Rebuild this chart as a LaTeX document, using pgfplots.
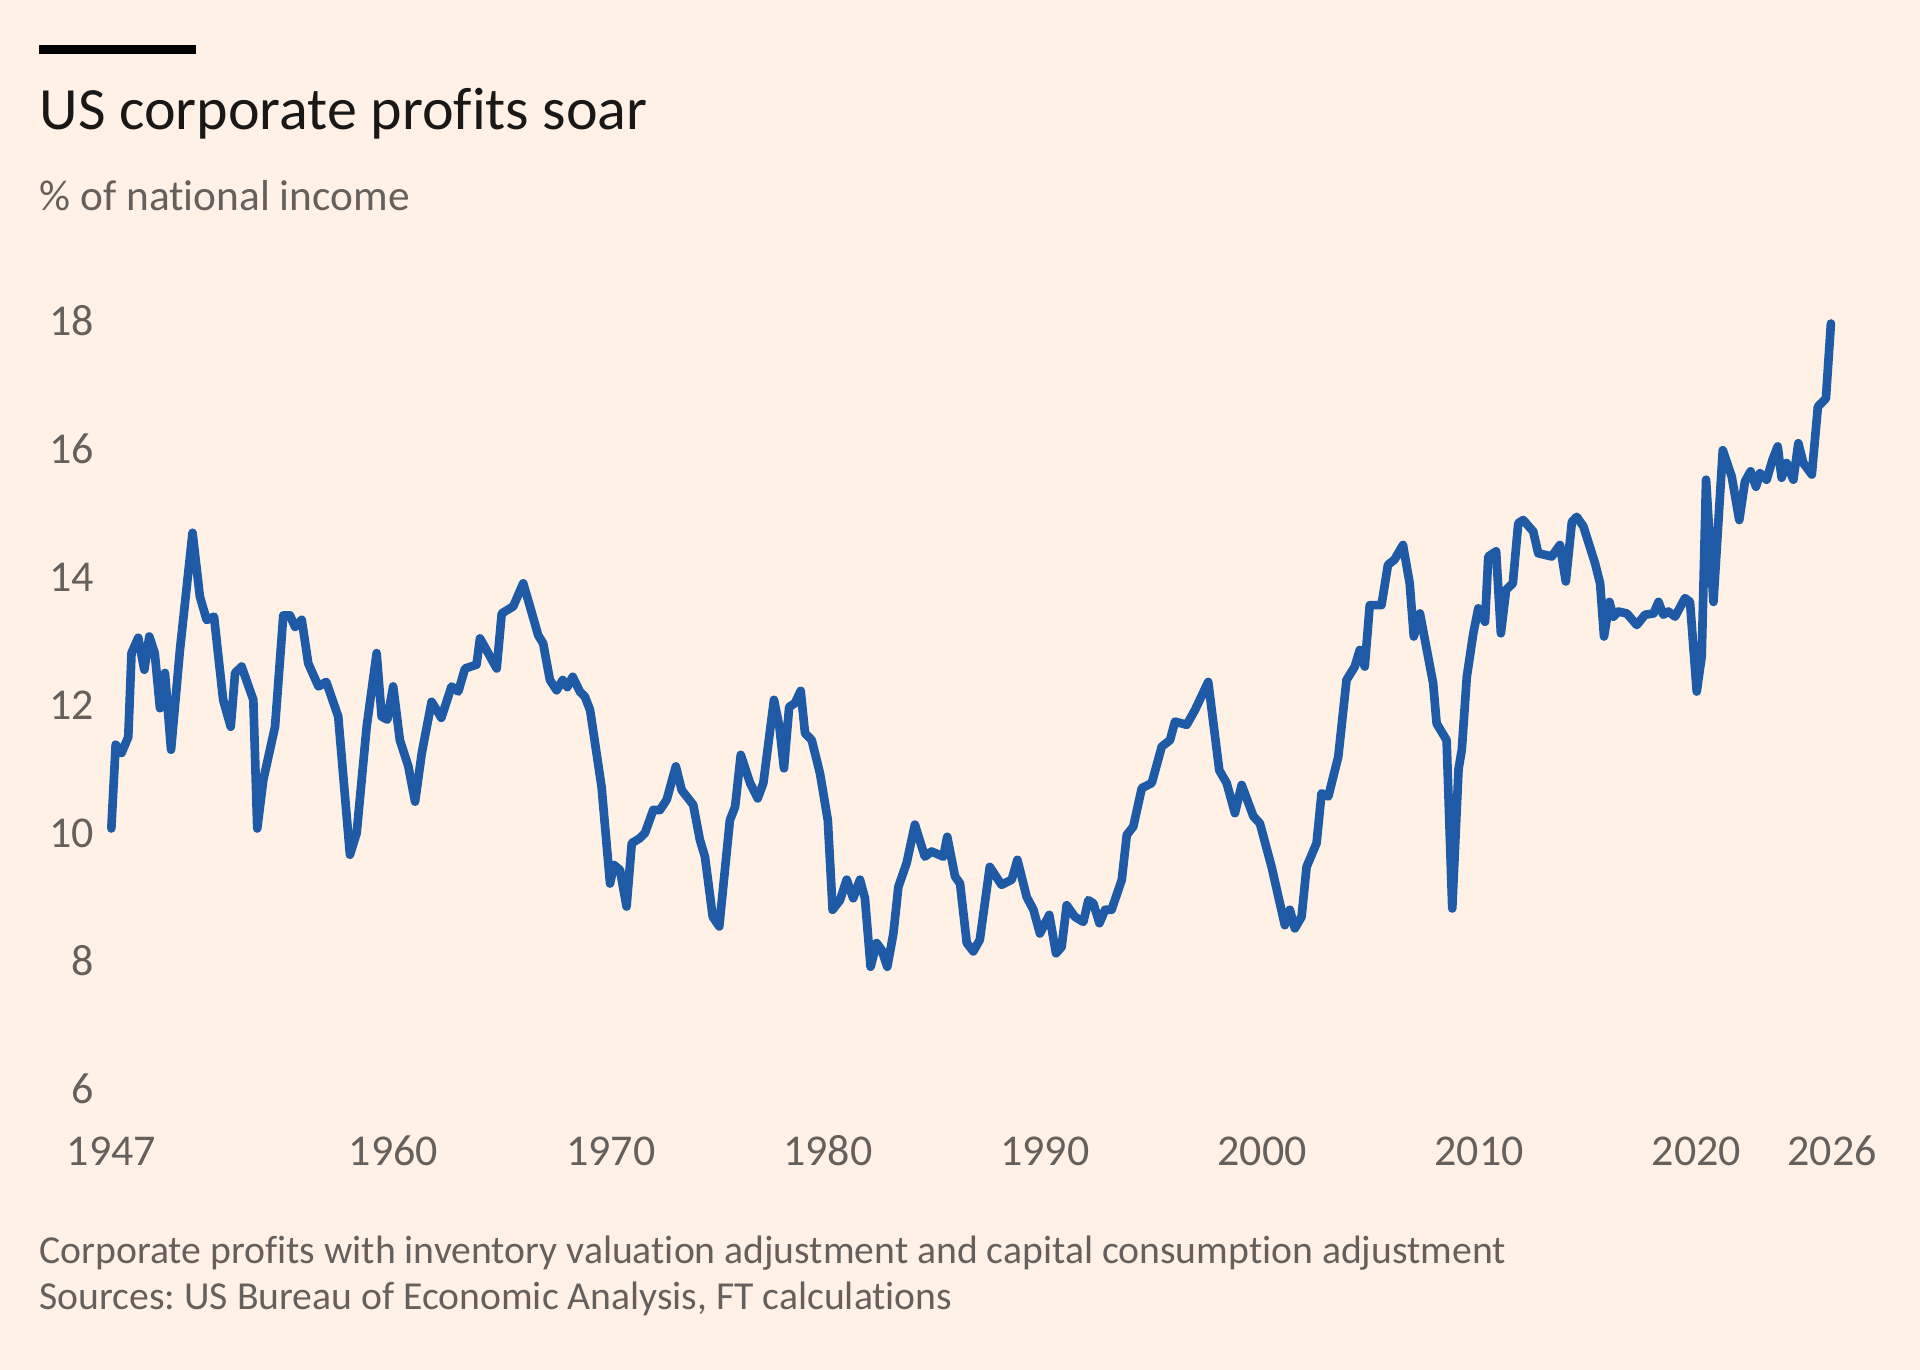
\documentclass[border=0pt]{standalone}
\usepackage{fontspec}
\setmainfont[Ligatures=NoCommon]{Carlito}
\usepackage{pgfplots}
\pgfplotsset{compat=1.18}
\frenchspacing
\definecolor{ftbg}{HTML}{FFF1E5}
\definecolor{fttitle}{HTML}{1A1817}
\definecolor{ftgray}{HTML}{66605C}
\definecolor{ftblue}{HTML}{1E5AA6}
\pgfplotstableread{
year value
1947.0 10.07
1947.2 11.38
1947.47 11.25
1947.78 11.5
1947.93 12.81
1948.24 13.05
1948.52 12.55
1948.75 13.07
1949.0 12.81
1949.24 11.95
1949.47 12.5
1949.75 11.3
1950.16 12.86
1950.74 14.69
1951.08 13.69
1951.39 13.33
1951.73 13.38
1952.15 12.08
1952.5 11.66
1952.7 12.5
1953.0 12.6
1953.54 12.08
1953.72 10.07
1954.0 10.83
1954.54 11.66
1954.92 13.4
1955.23 13.4
1955.46 13.22
1955.77 13.33
1956.07 12.65
1956.54 12.29
1956.9 12.36
1957.45 11.82
1957.99 9.66
1958.3 10.0
1958.76 11.66
1959.22 12.81
1959.45 11.82
1959.71 11.77
1959.98 12.29
1960.29 11.45
1960.68 11.04
1960.99 10.49
1961.3 11.25
1961.75 12.05
1962.2 11.8
1962.67 12.29
1962.98 12.21
1963.29 12.57
1963.82 12.63
1963.98 13.04
1964.75 12.57
1964.98 13.43
1965.51 13.54
1965.97 13.9
1966.28 13.54
1966.66 13.09
1966.89 12.96
1967.2 12.39
1967.51 12.23
1967.79 12.39
1968.0 12.28
1968.25 12.44
1968.58 12.21
1968.81 12.13
1969.05 11.92
1969.58 10.72
1969.97 9.21
1970.15 9.5
1970.43 9.42
1970.73 8.85
1970.97 9.84
1971.35 9.92
1971.58 10.0
1971.96 10.36
1972.27 10.36
1972.58 10.52
1973.0 11.04
1973.27 10.67
1973.5 10.57
1973.8 10.44
1974.11 9.89
1974.34 9.63
1974.7 8.69
1975.0 8.54
1975.49 10.2
1975.73 10.41
1975.99 11.22
1976.42 10.78
1976.77 10.54
1977.03 10.78
1977.52 12.08
1977.77 11.66
1977.98 11.01
1978.22 11.97
1978.49 12.03
1978.75 12.22
1978.95 11.56
1979.26 11.45
1979.64 10.93
1980.0 10.2
1980.22 8.8
1980.56 8.95
1980.87 9.27
1981.17 8.98
1981.48 9.27
1981.71 8.98
1981.97 7.91
1982.25 8.28
1982.48 8.17
1982.74 7.91
1983.02 8.43
1983.25 9.16
1983.63 9.53
1984.01 10.13
1984.47 9.63
1984.78 9.71
1985.32 9.63
1985.5 9.94
1985.86 9.32
1986.09 9.21
1986.4 8.28
1986.7 8.15
1987.0 8.33
1987.46 9.47
1988.0 9.19
1988.47 9.27
1988.73 9.58
1989.16 9.0
1989.47 8.8
1989.77 8.43
1990.2 8.72
1990.51 8.12
1990.77 8.22
1991.0 8.87
1991.38 8.69
1991.77 8.61
1992.0 8.95
1992.23 8.9
1992.51 8.59
1992.77 8.8
1993.07 8.8
1993.54 9.27
1993.77 9.97
1994.07 10.1
1994.46 10.7
1994.92 10.78
1995.38 11.35
1995.76 11.45
1995.99 11.74
1996.53 11.69
1996.91 11.92
1997.52 12.36
1998.03 10.98
1998.37 10.78
1998.75 10.31
1999.06 10.75
1999.6 10.26
1999.9 10.15
2000.44 9.47
2001.05 8.56
2001.28 8.8
2001.51 8.51
2001.82 8.69
2002.05 9.47
2002.51 9.84
2002.74 10.62
2003.05 10.57
2003.51 11.19
2003.89 12.39
2004.27 12.6
2004.5 12.86
2004.73 12.6
2004.96 13.56
2005.5 13.56
2005.8 14.19
2006.1 14.27
2006.49 14.5
2006.8 13.9
2006.99 13.07
2007.27 13.43
2007.5 13.02
2007.88 12.34
2008.04 11.71
2008.5 11.45
2008.76 8.82
2009.05 11.0
2009.2 11.3
2009.43 12.44
2009.73 13.12
2009.96 13.51
2010.27 13.3
2010.42 14.32
2010.78 14.4
2011.0 13.12
2011.24 13.8
2011.55 13.9
2011.8 14.84
2012.03 14.89
2012.49 14.71
2012.72 14.37
2013.11 14.34
2013.34 14.32
2013.72 14.5
2013.99 13.93
2014.27 14.86
2014.49 14.94
2014.8 14.79
2015.34 14.21
2015.57 13.9
2015.75 13.07
2016.0 13.61
2016.18 13.38
2016.41 13.46
2016.8 13.43
2017.26 13.25
2017.64 13.41
2018.03 13.43
2018.26 13.61
2018.48 13.41
2018.71 13.46
2019.02 13.38
2019.48 13.67
2019.71 13.61
2020.02 12.21
2020.25 12.76
2020.45 15.52
2020.79 13.61
2021.22 15.98
2021.63 15.57
2021.98 14.89
2022.24 15.49
2022.5 15.65
2022.75 15.41
2022.93 15.62
2023.24 15.52
2023.51 15.83
2023.75 16.04
2023.93 15.55
2024.16 15.78
2024.47 15.52
2024.7 16.09
2024.93 15.78
2025.32 15.6
2025.6 16.66
2025.97 16.79
2026.2 17.96
}\profits
\begin{document}
\begin{tikzpicture}
\useasboundingbox[fill=ftbg] (0,0) rectangle (576pt,411pt);
\fill[black] (11.7pt,394.8pt) rectangle (58.8pt,397.5pt);
\node[anchor=base west, inner sep=0pt, font=\fontsize{18}{22}\selectfont, text=fttitle] at (11.7pt,372pt) {US corporate profits soar};
\node[anchor=base west, inner sep=0pt, font=\fontsize{13}{16}\selectfont, text=ftgray] at (11.7pt,347.8pt) {\% of national income};
\begin{axis}[
  at={(33.4pt,84.3pt)}, anchor=south west,
  width=516.2pt, height=230.4pt, scale only axis,
  xmin=1947, xmax=2026.25, ymin=6, ymax=18,
  ytick={6,8,10,12,14,16,18},
  xtick={1947,1960,1970,1980,1990,2000,2010,2020,2026.25},
  xticklabels={1947,1960,1970,1980,1990,2000,2010,2020,2026},
  axis line style={draw=none}, major tick length=0pt,
  ticklabel style={font=\fontsize{13.2}{16}\selectfont, text=ftgray},
  yticklabel style={anchor=east, inner sep=0pt, xshift=-5pt},
  xticklabel style={anchor=base, inner sep=0pt, yshift=-23pt},
  /pgf/number format/assume math mode=true,
  clip=false]
\addplot[draw=ftblue, line width=2.6pt, line join=round, line cap=round] table[x=year, y=value] {\profits};
\end{axis}
\node[anchor=base west, inner sep=0pt, font=\fontsize{11.9}{15}\selectfont, text=ftgray] at (11.7pt,32pt) {Corporate profits with inventory valuation adjustment and capital consumption adjustment};
\node[anchor=base west, inner sep=0pt, font=\fontsize{11.9}{15}\selectfont, text=ftgray] at (11.7pt,18pt) {Sources: US Bureau of Economic Analysis, FT calculations};
\end{tikzpicture}
\end{document}
